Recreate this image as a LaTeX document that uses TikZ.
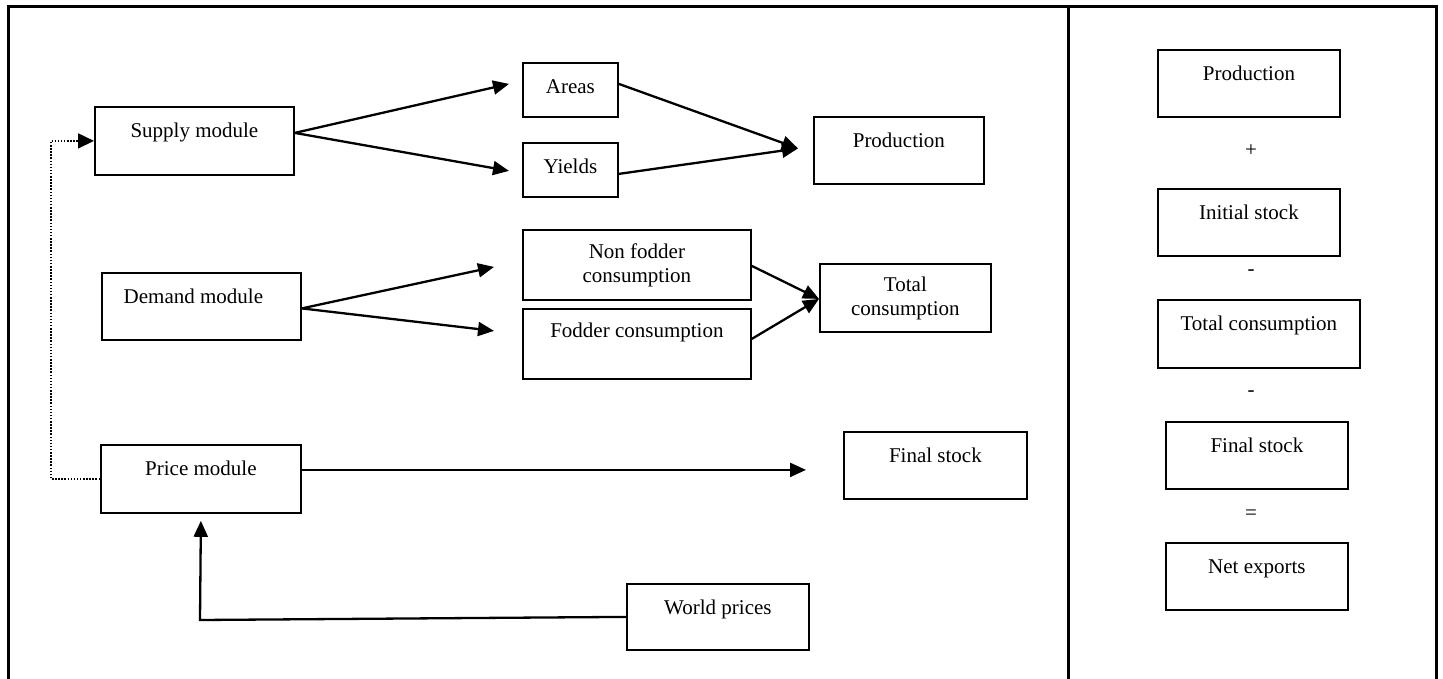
\documentclass[tikz,border=0pt]{standalone}
\usepackage{fontspec}
\setmainfont{Liberation Serif}
\usetikzlibrary{arrows.meta,calc}
\begin{document}
\begin{tikzpicture}[x=1pt,y=-1pt,
  font=\fontsize{21}{24}\selectfont,
  bx/.style={draw, line width=1.8pt, inner sep=0pt, anchor=north west},
  one/.style={text height=31pt, text depth=#1},
  two/.style={align=center},
  arr/.style={line width=2.3pt, -{Triangle[length=16pt,width=14pt]}},
  dotarr/.style={line width=1.7pt, dash pattern=on 1.5pt off 1.6pt, -{Triangle[length=16pt,width=15pt]}},
  frame/.style={line width=3pt},
  sym/.style={inner sep=0pt, anchor=center}]
\useasboundingbox (0,0) rectangle (1443,679);

% frame
\coordinate (fbl) at (8,681);
\coordinate (ftl) at (8,7);
\coordinate (ftr) at (1436,7);
\coordinate (fbr) at (1436,681);
\coordinate (dtop) at (1068,7);
\coordinate (dbot) at (1068,681);
\draw[frame] (fbl) -- (ftl) -- (ftr) -- (fbr);
\draw[frame] (dtop) -- (dbot);

% left panel boxes
\node[bx, one=37pt, minimum width=199pt, minimum height=68pt] (supply) at (94,106) {Supply module};
\node[bx, one=23pt, minimum width=95pt, minimum height=54pt] (areas) at (522,62) {Areas};
\node[bx, one=23pt, minimum width=95pt, minimum height=54pt] (yields) at (522,142) {Yields};
\node[bx, one=36pt, minimum width=170pt, minimum height=67pt] (prod) at (813,116) {Production};

\node[bx, one=36pt, minimum width=199pt, minimum height=67pt] (demand) at (101,272) {Demand module\hspace*{16pt}};
\node[bx, two, minimum width=228pt, minimum height=70pt] (nonfod) at (522,229) {Non fodder\\consumption};
\node[bx, text height=29pt, text depth=41pt, minimum width=228pt, minimum height=70pt] (fodder) at (522,308) {Fodder consumption};
\node[bx, two, minimum width=171pt, minimum height=68pt, text depth=4pt] (total) at (819,263) {Total\\consumption};

\node[bx, one=37pt, minimum width=200pt, minimum height=68pt] (price) at (100,444) {Price module};
\node[bx, one=36pt, minimum width=183pt, minimum height=67pt] (final) at (843,431) {Final stock};
\node[bx, one=35pt, minimum width=182pt, minimum height=66pt] (world) at (626,583) {World prices};

% right panel
\node[bx, one=36pt, minimum width=182pt, minimum height=67pt] (rprod) at (1157,49) {Production};
\node[sym] (plus) at (1251,151) {+};
\node[bx, one=36pt, minimum width=182pt, minimum height=67pt] (rinit) at (1157,188) {Initial stock};
\node[sym] (minusa) at (1251,273) {-};
\node[bx, one=37pt, minimum width=202pt, minimum height=68pt] (rtotal) at (1157,299) {Total consumption};
\node[sym] (minusb) at (1251,394) {-};
\node[bx, one=36pt, minimum width=182pt, minimum height=67pt] (rfinal) at (1165,421) {Final stock};
\node[sym] (equals) at (1251,515) {=};
\node[bx, one=36pt, minimum width=182pt, minimum height=67pt] (rnet) at (1165,542) {Net exports};

% connectors
\draw[arr] ([yshift=8pt]supply.east) -- ([xshift=-13pt,yshift=6pt]areas.west);
\draw[arr] ([yshift=8pt]supply.east) -- ([xshift=-13pt,yshift=-1pt]yields.west);
\draw[arr] ([yshift=6pt]areas.east) -- ([xshift=-15pt,yshift=2pt]prod.west);
\draw[arr] ([yshift=-4pt]yields.east) -- ([xshift=-15pt,yshift=2pt]prod.west);

\draw[arr] ([yshift=-2pt]demand.east) -- ([xshift=-28pt,yshift=-2pt]nonfod.west);
\draw[arr] ([yshift=-2pt]demand.east) -- ([xshift=-28pt,yshift=13pt]fodder.west);
\draw[arr] ([yshift=-1pt]nonfod.east) -- ([yshift=-1pt]total.west);
\draw[arr] ([yshift=5pt]fodder.east) -- ([yshift=-1pt]total.west);

\coordinate (pfs) at ([yshift=9pt]price.east);
\coordinate (pfe) at (pfs -| final.west);
\draw[arr] (pfs) -- ([xshift=-37pt]pfe);

\coordinate (wc) at (200,620);
\draw[arr] (world.west) -- (wc) -- ([yshift=-7pt]price.south);

\draw[dotarr] (price.west) -- ++(-49,0) |- (supply.west);
\end{tikzpicture}
\end{document}
